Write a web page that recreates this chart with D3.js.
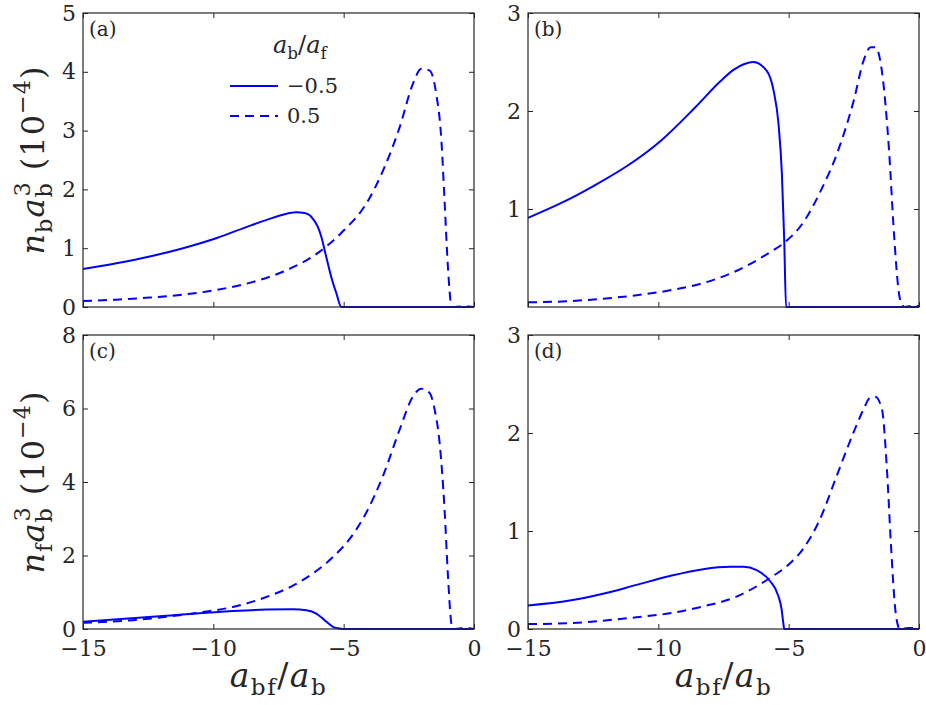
<!DOCTYPE html>
<html>
<head>
<meta charset="utf-8">
<script src="https://cdn.jsdelivr.net/npm/d3@7"></script>
<style>
  body { margin: 0; background: #fff; }
  svg { display: block; }
  text { font-family: "DejaVu Serif", "Liberation Serif", serif; fill: #262626; }
</style>
</head>
<body>
<svg id="chart" width="926" height="705"></svg>
<script>
// x: a_bf/a_b, densities (units of 1e-4)
const xTicks = [-15, -10, -5, 0];

const aNeg = [[-15,0.646],[-13.72,0.745],[-12.44,0.86],[-11.16,1.0],[-9.89,1.17],[-8.61,1.38],[-7.9,1.49],[-7.33,1.57],[-6.82,1.61],[-6.5,1.6],[-6.3,1.56],[-6.18,1.5],[-6.0,1.37],[-5.86,1.2],[-5.67,0.856],[-5.48,0.516],[-5.28,0.233],[-5.09,0],[0,0]];
const aPos = [[-15,0.1],[-13.72,0.125],[-12.44,0.16],[-11.16,0.21],[-9.89,0.29],[-8.61,0.41],[-7.33,0.6],[-6.05,0.9],[-5,1.3],[-4.13,1.76],[-3.49,2.32],[-2.85,3.06],[-2.34,3.8],[-2.02,4.05],[-1.7,4.02],[-1.45,3.63],[-1.25,2.83],[-1.13,1.81],[-1.0,0.68],[-0.87,0.03],[-0.8,0],[-0.5,0.01],[-0.2,0.01],[0,0]];

const bNeg = [[-15,0.91],[-13.72,1.062],[-12.44,1.242],[-11.16,1.446],[-9.89,1.70],[-8.61,2.03],[-7.63,2.30],[-7.12,2.42],[-6.7,2.48],[-6.36,2.5],[-5.84,2.41],[-5.58,2.21],[-5.39,1.87],[-5.26,1.36],[-5.17,0.68],[-5.1,0],[0,0]];
const bPos = [[-15,0.048],[-13.4,0.06],[-12.12,0.085],[-10.83,0.12],[-9.55,0.17],[-8.4,0.235],[-6.99,0.37],[-5.71,0.56],[-5.2,0.65],[-4.42,0.87],[-3.78,1.18],[-3.14,1.57],[-2.5,2.11],[-2.12,2.52],[-1.86,2.65],[-1.67,2.65],[-1.41,2.38],[-1.15,1.6],[-0.96,0.75],[-0.77,0.14],[-0.64,0.02],[-0.55,0],[-0.3,0.01],[0,0.01]];

const cNeg = [[-15,0.2],[-11.8,0.36],[-9.25,0.49],[-7.97,0.53],[-6.94,0.54],[-6.43,0.51],[-6.05,0.42],[-5.73,0.24],[-5.41,0.06],[-5.22,0.02],[-5.03,0],[0,0]];
const cPos = [[-15,0.17],[-13.08,0.24],[-11.8,0.33],[-10.52,0.45],[-9.25,0.6],[-7.97,0.87],[-6.69,1.28],[-5.41,1.96],[-4.77,2.45],[-4.13,3.17],[-3.49,4.17],[-2.85,5.43],[-2.34,6.33],[-2.02,6.54],[-1.7,6.42],[-1.51,5.97],[-1.32,5.07],[-1.13,3.26],[-1.0,1.46],[-0.87,0.15],[-0.81,0],[-0.5,0.02],[-0.2,0.02],[0,0]];

const dNeg = [[-15,0.24],[-13.4,0.29],[-12.12,0.36],[-10.84,0.45],[-9.56,0.54],[-8.28,0.61],[-7.25,0.634],[-6.74,0.634],[-6.23,0.6],[-5.72,0.49],[-5.4,0.34],[-5.27,0.2],[-5.21,0.07],[-5.17,0],[0,0]];
const dPos = [[-15,0.05],[-13.4,0.06],[-12.12,0.085],[-10.84,0.12],[-9.56,0.16],[-8.28,0.23],[-7.0,0.33],[-5.72,0.52],[-5.08,0.64],[-4.44,0.82],[-3.8,1.12],[-3.16,1.56],[-2.52,2.0],[-2.13,2.24],[-1.88,2.36],[-1.68,2.37],[-1.42,2.24],[-1.23,1.63],[-1.08,0.88],[-0.91,0.2],[-0.79,0.02],[-0.74,0],[-0.4,0.01],[-0.15,0.01],[0,0]];

const legendLabels = ["\u22120.5", "0.5"];

const panels = [
  { id: "(a)", x: 83,  y: 13,  yMax: 5, yTicks: [0,1,2,3,4,5], neg: aNeg, pos: aPos, xLabels: false },
  { id: "(b)", x: 528, y: 13,  yMax: 3, yTicks: [1,2,3],       neg: bNeg, pos: bPos, xLabels: false },
  { id: "(c)", x: 83,  y: 335, yMax: 8, yTicks: [0,2,4,6,8],   neg: cNeg, pos: cPos, xLabels: true },
  { id: "(d)", x: 528, y: 335, yMax: 3, yTicks: [0,1,2,3],     neg: dNeg, pos: dPos, xLabels: true }
];

const pw = 391, ph = 294;
const axisColor = "#262626";
const numFmt = d => d < 0 ? "\u2212" + Math.abs(d) : String(d);
const svg = d3.select("#chart");

// appends math-ish tspans: italic vars, sub/superscripts
function mathText(sel, parts, size) {
  let shift = 0;
  parts.forEach(p => {
    let target = 0, fs = size;
    if (p.sub) { target = 0.25 * size; fs = 0.7 * size; }
    if (p.sup) { target = -0.45 * size; fs = 0.7 * size; }
    const ts = sel.append("tspan")
      .text(p.t)
      .attr("font-size", fs)
      .attr("font-style", p.i ? "italic" : "normal")
      .attr("dy", target - shift);
    if (p.dx) ts.attr("dx", p.dx * size);
    shift = target;
  });
}

panels.forEach(p => {
  const x = d3.scaleLinear().domain([-15, 0]).range([0, pw]);
  const y = d3.scaleLinear().domain([0, p.yMax]).range([ph, 0]);
  const g = svg.append("g").attr("transform", `translate(${p.x},${p.y})`);

  const line = d3.line()
    .x(d => x(d[0]))
    .y(d => y(d[1]))
    .curve(d3.curveMonotoneX);

  g.append("path").datum(p.pos)
    .attr("d", line)
    .attr("fill", "none")
    .attr("stroke", "#0000ff")
    .attr("stroke-width", 2)
    .attr("stroke-dasharray", "9,6");

  g.append("path").datum(p.neg)
    .attr("d", line)
    .attr("fill", "none")
    .attr("stroke", "#0000ff")
    .attr("stroke-width", 2);

  // axes, ticks point inwards on all four sides
  const bottom = g.append("g").attr("transform", `translate(0,${ph})`)
    .call(d3.axisBottom(x).tickValues(xTicks).tickSize(-5).tickSizeOuter(0).tickPadding(11).tickFormat(numFmt));
  if (!p.xLabels) bottom.selectAll("text").remove();
  g.append("g")
    .call(d3.axisTop(x).tickValues(xTicks).tickSize(-5).tickSizeOuter(0).tickFormat(""));
  g.append("g")
    .call(d3.axisLeft(y).tickValues(p.yTicks).tickSize(-5).tickSizeOuter(0).tickPadding(7).tickFormat(numFmt));
  g.append("g").attr("transform", `translate(${pw},0)`)
    .call(d3.axisRight(y).tickValues(p.yTicks).tickSize(-5).tickSizeOuter(0).tickFormat(""));

  g.selectAll(".domain").remove();
  g.selectAll(".tick line").attr("stroke", axisColor).attr("stroke-width", 1);
  g.selectAll(".tick text")
    .attr("fill", axisColor)
    .style("font-family", "'DejaVu Serif', serif")
    .style("font-size", "22px");

  g.append("rect")
    .attr("width", pw).attr("height", ph)
    .attr("fill", "none")
    .attr("stroke", axisColor)
    .attr("stroke-width", 1.2);

  g.append("text")
    .attr("x", 6).attr("y", 23)
    .style("font-size", "20px")
    .text(p.id);
});

// y axis labels
const yLabA = svg.append("text")
  .attr("transform", `translate(44,${13 + ph / 2}) rotate(-90)`)
  .attr("text-anchor", "middle")
  .style("letter-spacing", "1px");
mathText(yLabA, [{t:"n", i:true},{t:"b", sub:true},{t:"a", i:true},{t:"b", sub:true},{t:"3", sup:true, dx:-0.45},{t:" (10"},{t:"\u22124", sup:true},{t:")"}], 32);

const yLabC = svg.append("text")
  .attr("transform", `translate(44,${335 + ph / 2}) rotate(-90)`)
  .attr("text-anchor", "middle")
  .style("letter-spacing", "1px");
mathText(yLabC, [{t:"n", i:true},{t:"f", sub:true},{t:"a", i:true},{t:"b", sub:true},{t:"3", sup:true, dx:-0.45},{t:" (10"},{t:"\u22124", sup:true},{t:")"}], 32);

// x axis labels
[83, 528].forEach(px => {
  const t = svg.append("text")
    .attr("x", px + pw / 2).attr("y", 687)
    .attr("text-anchor", "middle")
    .style("letter-spacing", "1.5px");
  mathText(t, [{t:"a", i:true},{t:"bf", sub:true},{t:"/"},{t:"a", i:true},{t:"b", sub:true}], 33);
});

// legend in panel (a)
const leg = svg.append("g");
const legTitle = leg.append("text").attr("x", 273).attr("y", 53);
mathText(legTitle, [{t:"a", i:true},{t:"b", sub:true},{t:"/"},{t:"a", i:true},{t:"f", sub:true}], 24);

legendLabels.forEach((lab, i) => {
  const ly = 86 + i * 30;
  leg.append("line")
    .attr("x1", 230).attr("x2", 278)
    .attr("y1", ly).attr("y2", ly)
    .attr("stroke", "#0000ff")
    .attr("stroke-width", 2)
    .attr("stroke-dasharray", i === 1 ? "9,6" : null);
  leg.append("text")
    .attr("x", 287).attr("y", ly + 7)
    .style("font-size", "21px")
    .text(lab);
});
</script>
</body>
</html>
